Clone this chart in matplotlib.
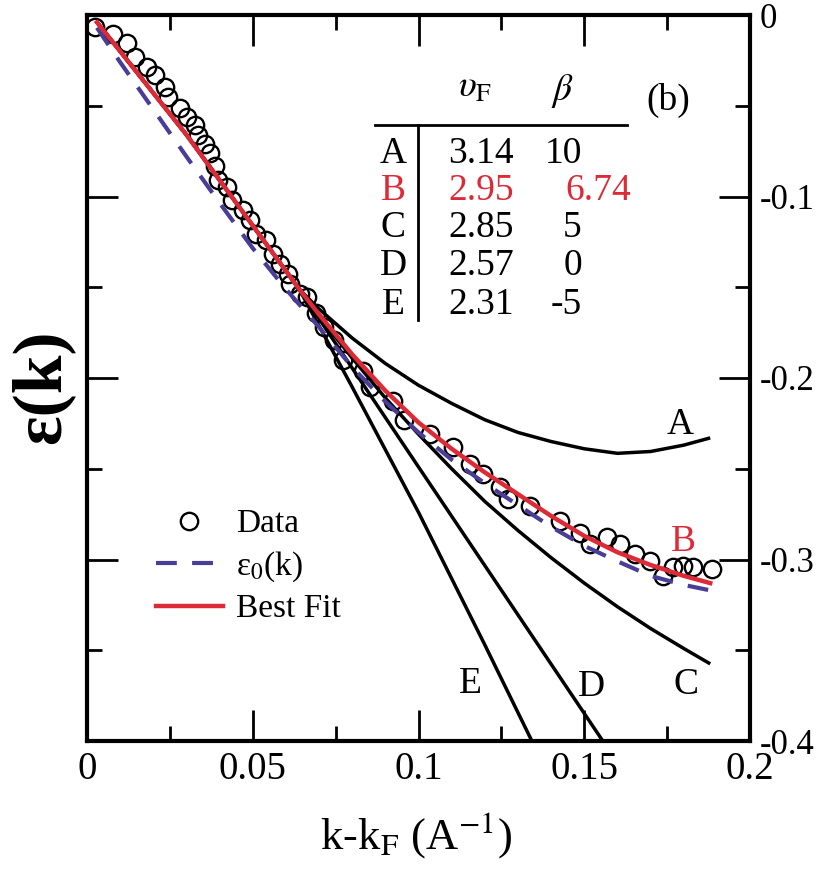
import matplotlib
matplotlib.use("Agg")
import matplotlib.pyplot as plt

plt.rcParams['font.family'] = ['Liberation Serif', 'DejaVu Serif']
plt.rcParams['mathtext.fontset'] = 'stix'
plt.rcParams['lines.scale_dashes'] = False

# ---- data ----
data_k = [0.0024, 0.0079, 0.0120, 0.0145, 0.0180, 0.0205, 0.0235, 0.0245, 0.0281, 0.0301,
          0.0326, 0.0336, 0.0356, 0.0371, 0.0386, 0.0396, 0.0421, 0.0436, 0.0471, 0.0491,
          0.0511, 0.0541, 0.0561, 0.0582, 0.0607, 0.0612, 0.0643, 0.0663, 0.0690, 0.0715,
          0.0745, 0.0773, 0.0834, 0.0854, 0.0924, 0.0955, 0.1035, 0.1105, 0.1156, 0.1196,
          0.1246, 0.1271, 0.1336, 0.1427, 0.1487, 0.1517, 0.1568, 0.1608, 0.1653, 0.1698,
          0.1739, 0.1769, 0.1799, 0.1829, 0.1884]
data_e = [-0.0065, -0.0105, -0.0156, -0.0230, -0.0285, -0.0331, -0.0395, -0.0451, -0.0515, -0.0561,
          -0.0607, -0.0662, -0.0708, -0.0763, -0.0830, -0.0910, -0.0947, -0.1021, -0.1076, -0.1131,
          -0.1205, -0.1241, -0.1315, -0.1370, -0.1425, -0.1480, -0.1536, -0.1554, -0.1640, -0.1720,
          -0.1790, -0.1903, -0.1959, -0.2051, -0.2124, -0.2234, -0.2308, -0.2382, -0.2474, -0.2529,
          -0.2602, -0.2667, -0.2703, -0.2786, -0.2855, -0.2915, -0.2878, -0.2915, -0.2970, -0.3007,
          -0.3090, -0.3044, -0.3034, -0.3044, -0.3053]

fit_k = [0.003, 0.01, 0.02, 0.03, 0.04, 0.05, 0.06, 0.064, 0.07, 0.08, 0.09, 0.10,
         0.11, 0.12, 0.13, 0.14, 0.15, 0.16, 0.17, 0.18, 0.188]
fit_e = [-0.004, -0.020, -0.043, -0.066, -0.091, -0.116, -0.141, -0.151, -0.165, -0.187, -0.207, -0.2245,
         -0.239, -0.252, -0.264, -0.276, -0.287, -0.296, -0.303, -0.309, -0.313]

eps0_k = [0.003, 0.01, 0.02, 0.03, 0.04, 0.05, 0.06, 0.07, 0.08, 0.09, 0.10,
          0.11, 0.12, 0.13, 0.14, 0.15, 0.16, 0.17, 0.18, 0.188]
eps0_e = [-0.007, -0.026, -0.052, -0.078, -0.1035, -0.1285, -0.151, -0.172, -0.194, -0.213, -0.230,
          -0.245, -0.258, -0.270, -0.282, -0.2925, -0.301, -0.309, -0.314, -0.317]

# the four model curves coincide with the best fit up to k ~ 0.064 (hidden under it)
shared_k = [0.003, 0.01, 0.02, 0.03, 0.04, 0.05, 0.06, 0.064]
shared_e = [-0.004, -0.020, -0.043, -0.066, -0.091, -0.116, -0.141, -0.151]
A_k = shared_k + [0.07, 0.08, 0.09, 0.10, 0.11, 0.12, 0.13, 0.14, 0.15, 0.16, 0.17, 0.18, 0.188]
A_e = shared_e + [-0.162, -0.178, -0.192, -0.204, -0.214, -0.223, -0.230, -0.235,
                  -0.239, -0.2415, -0.2405, -0.237, -0.233]
C_k = shared_k + [0.07, 0.08, 0.09, 0.10, 0.11, 0.12, 0.13, 0.14, 0.15, 0.16, 0.17, 0.18, 0.188]
C_e = shared_e + [-0.166, -0.189, -0.211, -0.231, -0.250, -0.268, -0.284, -0.299,
                  -0.313, -0.326, -0.338, -0.349, -0.3575]
D_k = shared_k + [0.10, 0.1556]
D_e = shared_e + [-0.249, -0.400]
E_k = shared_k + [0.08, 0.10, 0.12, 0.1342]
E_e = shared_e + [-0.205, -0.274, -0.347, -0.400]

curve_labels = ['A', 'B', 'C', 'D', 'E']
table_vF = ['3.14', '2.95', '2.85', '2.57', '2.31']
table_beta = ['10', '6.74', '5', '0', '-5']

x_ticks = [0, 0.05, 0.1, 0.15, 0.2]
x_ticklabels = ['0', '0.05', '0.1', '0.15', '0.2']
y_ticks = [0, -0.1, -0.2, -0.3, -0.4]
y_ticklabels = ['0', '-0.1', '-0.2', '-0.3', '-0.4']

RED = '#dc2a37'
BLUE = '#4a3d97'

W, H = 822, 874
fig = plt.figure(figsize=(W / 100, H / 100), dpi=100)
L, R, T, B = 87, 750, 15, 741
ax = fig.add_axes([L / W, 1 - B / H, (R - L) / W, (B - T) / H])

for k, e in [(A_k, A_e), (C_k, C_e), (D_k, D_e), (E_k, E_e)]:
    ax.plot(k, e, color='black', lw=2.5, zorder=2, solid_capstyle='butt')

ax.plot(data_k, data_e, 'o', ms=12.5, mfc='none', mec='black', mew=1.7, zorder=3, label='Data')
ax.plot(eps0_k, eps0_e, color=BLUE, lw=3, dashes=(15, 11), zorder=4, label='ε$_0$(k)')
ax.plot(fit_k, fit_e, color=RED, lw=3.2, zorder=5, label='Best Fit')

ax.set_xlim(0, 0.2)
ax.set_ylim(-0.4, 0)
ax.set_xticks(x_ticks)
ax.set_xticklabels(x_ticklabels)
ax.set_xticks([0.025, 0.075, 0.125, 0.175], minor=True)
ax.set_yticks(y_ticks)
ax.set_yticklabels(y_ticklabels)
ax.set_yticks([-0.05, -0.15, -0.25, -0.35], minor=True)
ax.tick_params(which='both', direction='in', top=True, right=True, left=True, bottom=True,
               labelleft=False, labelright=True, width=2)
ax.tick_params(axis='x', labelsize=28)
ax.tick_params(axis='y', labelsize=25)
ax.tick_params(which='major', length=22, pad=7)
ax.tick_params(which='minor', length=11)
for s in ax.spines.values():
    s.set_linewidth(3)

# curve labels
ax.text(0.1789, -0.2306, 'A', fontsize=27, ha='center', va='baseline')
ax.text(0.1798, -0.2952, 'B', fontsize=27, ha='center', va='baseline', color=RED)
ax.text(0.1807, -0.3741, 'C', fontsize=27, ha='center', va='baseline')
ax.text(0.1523, -0.3752, 'D', fontsize=27, ha='center', va='baseline')
ax.text(0.1155, -0.3735, 'E', fontsize=27, ha='center', va='baseline')

# parameter table
ax.text(0.117, -0.0452, r'$\upsilon_{\mathrm{F}}$', fontsize=27, ha='center', va='baseline')
ax.text(0.1433, -0.0469, r'$\beta$', fontsize=27, ha='center', va='baseline')
ax.text(0.1753, -0.0524, '(b)', fontsize=27, ha='center', va='baseline')
ax.plot([0.0869, 0.1629], [-0.0607, -0.0607], color='black', lw=2)
ax.plot([0.0998, 0.0998], [-0.0607, -0.1683], color='black', lw=2)
row_base = [-0.0817, -0.1021, -0.1225, -0.1434, -0.1650]
for i, (lab, v, b) in enumerate(zip(curve_labels, table_vF, table_beta)):
    c = RED if lab == 'B' else 'black'
    ax.text(0.0923, row_base[i], lab, fontsize=27, ha='center', va='baseline', color=c)
    ax.text(0.1288, row_base[i], v, fontsize=27, ha='right', va='baseline', color=c)
    if lab == 'B':
        ax.text(0.1442, row_base[i], b, fontsize=27, ha='left', va='baseline', color=c)
    else:
        ax.text(0.1493, row_base[i], b, fontsize=27, ha='right', va='baseline', color=c)

leg = ax.legend(loc='upper left', bbox_to_anchor=((156 - L) / (R - L), 1 - (509 - T) / (B - T)),
                frameon=False, fontsize=24, handlelength=2.0, handletextpad=0.4,
                labelspacing=0.3, borderpad=0, borderaxespad=0)

fig.text(42 / W, 1 - 387 / H, 'ε(k)', rotation=90, fontsize=50, fontweight='bold',
         ha='center', va='center')
fig.text(416 / W, 1 - 835 / H, r'k-k$_{\mathrm{F}}$ (A$^{\mathrm{-1}}$)', fontsize=32,
         ha='center', va='center')

fig.savefig('out.png', dpi=100)
